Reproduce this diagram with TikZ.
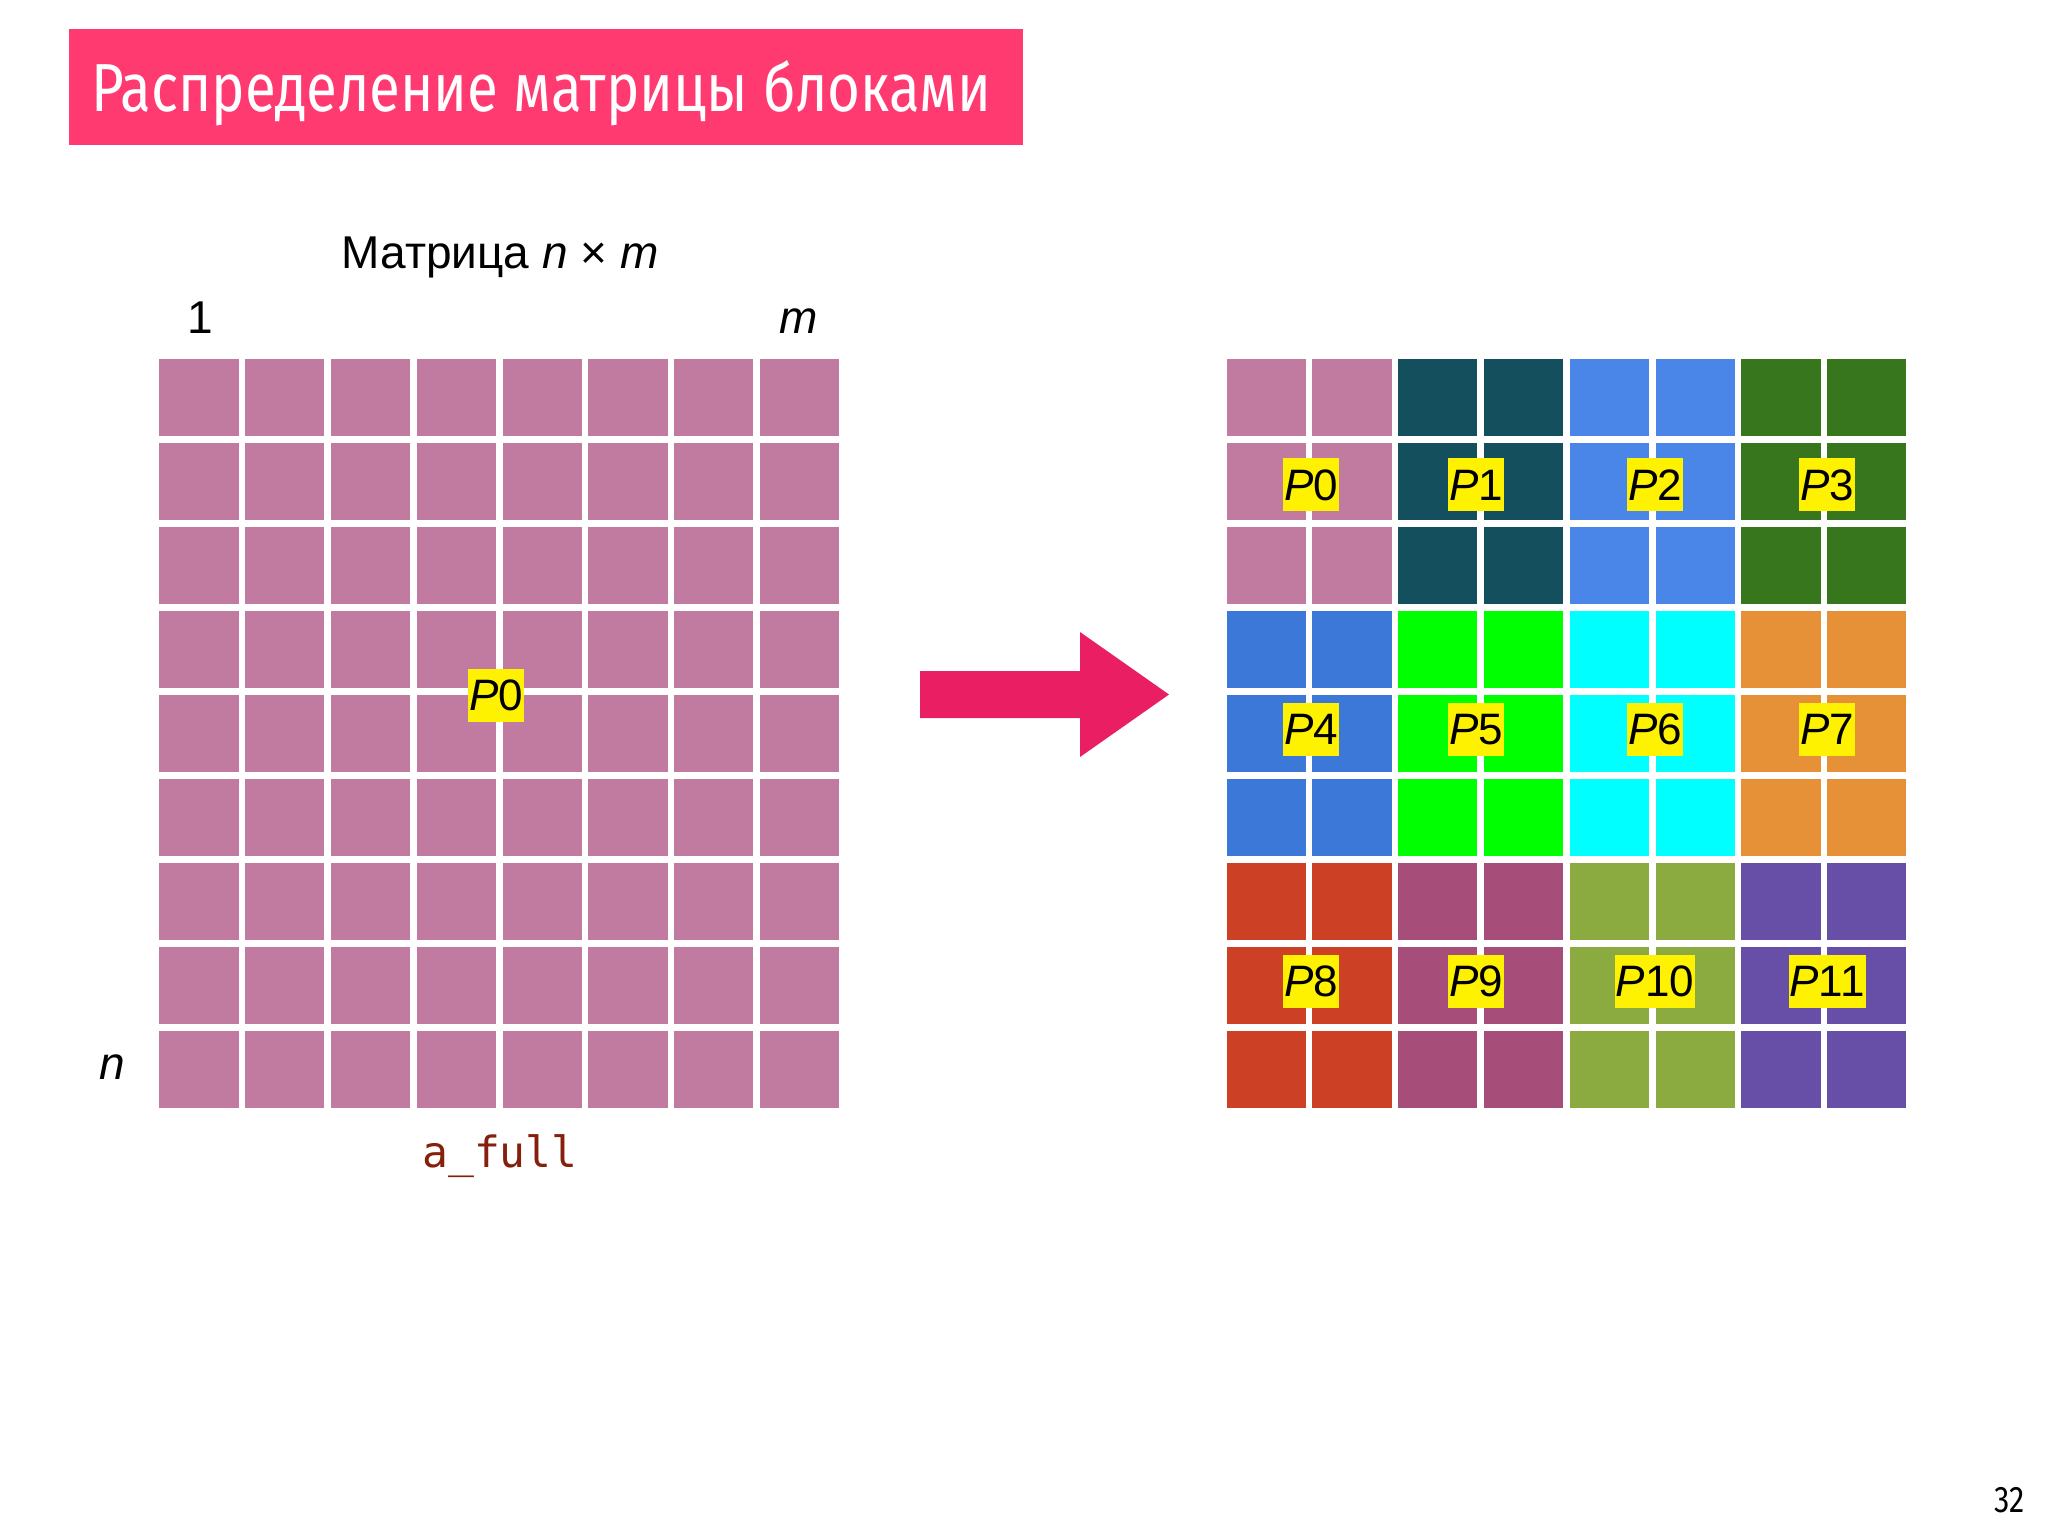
\documentclass[tikz,border=0pt]{standalone}
\usepackage{fontspec}
\setmainfont{Liberation Sans}
\newfontfamily\titlefont[FakeStretch=0.83]{Fira Sans}
\newfontfamily\codefont{DejaVu Sans Mono}
\usepackage{tikz}
\usetikzlibrary{positioning}

\definecolor{titlered}{RGB}{255,58,112}
\definecolor{arrowred}{RGB}{233,30,99}
\definecolor{codered}{RGB}{133,32,12}
\definecolor{proc0}{HTML}{C27BA0}
\definecolor{proc1}{HTML}{134F5C}
\definecolor{proc2}{HTML}{4A86E8}
\definecolor{proc3}{HTML}{38761D}
\definecolor{proc4}{HTML}{3C78D8}
\definecolor{proc5}{HTML}{00FF00}
\definecolor{proc6}{HTML}{00FFFF}
\definecolor{proc7}{HTML}{E69138}
\definecolor{proc8}{HTML}{CC4125}
\definecolor{proc9}{HTML}{A64D79}
\definecolor{proc10}{HTML}{8BAA40}
\definecolor{proc11}{HTML}{674EA7}

\begin{document}
\begin{tikzpicture}[%
		x=1pt,
		y=-1pt,
		cell/.style={%
			minimum width=79.2pt,
			minimum height=76.7pt,
			inner sep=0pt
		},
		plabel/.style={%
			fill=yellow,
			font=\fontsize{44}{44}\selectfont,
			text height=31.5pt,
			text depth=0pt,
			inner xsep=1pt,
			inner ysep=10.75pt
		},
		axis/.style={%
			font=\fontsize{46}{50}\selectfont,
			anchor=base,
			inner sep=0pt
		}
		]
		\useasboundingbox (0,0) rectangle (2048,1536);
		
		% title bar
		\fill[titlered] (69,29) rectangle (1023,145);
		\node[anchor=base west, inner sep=0pt, text=white,
			font=\titlefont\fontsize{68}{72}\selectfont] (title) at (91,112)
			{Распределение матрицы блоками};
		\node[anchor=base east, inner sep=0pt,
			font=\titlefont\fontsize{37}{40}\selectfont] (page) at (2025,1512) {32};
		
		% full matrix
		\foreach \r in {0,...,8}
			\foreach \c in {0,...,7}
				\node[cell, fill=proc0] (l-\r-\c) at ({198.9+85.8*\c}, {397.65+84*\r}) {};
		
		\node[axis] (caption) at (500,268) {Матрица \textit{n} × \textit{m}};
		\node[axis] (one)     at (200.5,333) {1};
		\node[axis] (mlab)    at (799,333)   {\textit{m}};
		\node[axis] (nlab)    at (112,1079)  {\textit{n}};
		\node[anchor=base, inner sep=0pt, text=codered,
			font=\codefont\fontsize{43}{46}\selectfont] (afull) at (500,1167) {a\_full};
		\node[plabel] (lp0) at (496,695) {\textit{P}0};
		
		% arrow
		\fill[arrowred] (920,671) -- (1080,671) -- (1080,632) -- (1169,694.5)
			-- (1080,757) -- (1080,718) -- (920,718) -- cycle;
		
		% blocks
		\foreach \k in {0,...,11}{
			\pgfmathtruncatemacro{\bi}{\k/4}
			\pgfmathtruncatemacro{\bj}{mod(\k,4)}
			\foreach \dr in {0,1,2}
				\foreach \dc in {0,1}{
					\pgfmathtruncatemacro{\r}{3*\bi+\dr}
					\pgfmathtruncatemacro{\c}{2*\bj+\dc}
					\node[cell, fill=proc\k] (b-\r-\c) at ({1266.1+85.8*\c}, {397.65+84*\r}) {};
				}
			\pgfmathsetmacro{\px}{{1311,1476,1655,1827}[\bj]}
			\pgfmathsetmacro{\py}{{484.5,729,981}[\bi]}
			\node[plabel] (p\k) at (\px,\py) {\textit{P}\k};
		}
		\end{tikzpicture}
\end{document}
